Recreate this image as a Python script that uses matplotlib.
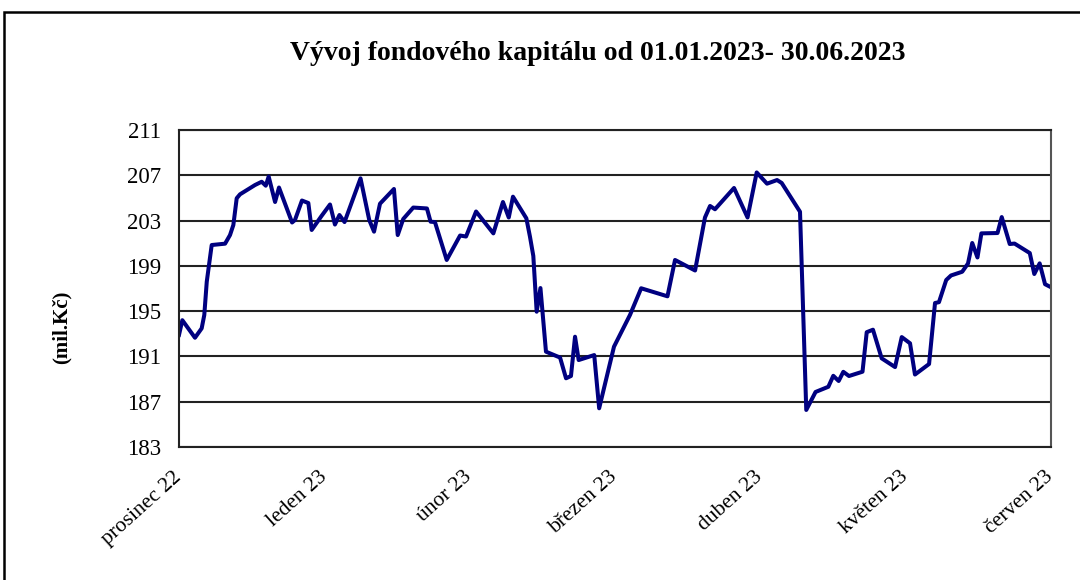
import matplotlib
matplotlib.use('Agg')
import matplotlib.pyplot as plt
from matplotlib.patches import Rectangle

# data (x = position in months from first tick, y = capital in mil. Kc)
month_pos = [0.000, 0.023, 0.110, 0.156, 0.174, 0.191, 0.225, 0.317, 0.351, 0.374,
             0.397, 0.420, 0.523, 0.569, 0.597, 0.617, 0.661, 0.688, 0.778, 0.798,
             0.846, 0.890, 0.913, 0.982, 1.039, 1.073, 1.104, 1.139, 1.249, 1.309,
             1.342, 1.383, 1.479, 1.505, 1.543, 1.612, 1.706, 1.731, 1.761, 1.842,
             1.934, 1.975, 2.044, 2.163, 2.229, 2.269, 2.298, 2.390, 2.415, 2.438,
             2.461, 2.487, 2.525, 2.622, 2.663, 2.697, 2.725, 2.750, 2.857, 2.891,
             2.993, 3.103, 3.180, 3.361, 3.413, 3.551, 3.619, 3.654, 3.688, 3.819,
             3.912, 3.975, 4.046, 4.115, 4.147, 4.273, 4.316, 4.380, 4.468, 4.502,
             4.539, 4.571, 4.610, 4.703, 4.732, 4.775, 4.835, 4.927, 4.973, 5.030,
             5.064, 5.161, 5.202, 5.229, 5.279, 5.312, 5.389, 5.429, 5.458, 5.494,
             5.521, 5.632, 5.661, 5.716, 5.749, 5.854, 5.885, 5.922, 5.959, 5.997]
kapital = [192.9, 194.2, 192.65, 193.48, 194.66, 197.60, 200.84, 200.96, 201.72, 202.61,
           204.97, 205.32, 206.14, 206.43, 206.08, 206.89, 204.64, 205.92, 202.83, 203.05,
           204.77, 204.55, 202.17, 203.43, 204.42, 202.65, 203.49, 202.87, 206.73, 203.05,
           202.02, 204.49, 205.79, 201.72, 203.14, 204.15, 204.07, 202.90, 202.87, 199.52,
           201.68, 201.59, 203.80, 201.87, 204.64, 203.27, 205.11, 203.20, 201.57, 199.87,
           194.95, 197.04, 191.42, 190.90, 189.07, 189.27, 192.74, 190.68, 191.12, 186.42,
           191.86, 194.66, 197.02, 196.31, 199.52, 198.59, 203.27, 204.29, 204.00, 205.88,
           203.27, 207.25, 206.26, 206.58, 206.32, 203.78, 186.27, 187.86, 188.32, 189.29,
           188.83, 189.64, 189.27, 189.65, 193.14, 193.36, 190.83, 190.06, 192.71, 192.16,
           189.40, 190.33, 195.72, 195.79, 197.75, 198.15, 198.48, 199.21, 201.02, 199.74,
           201.87, 201.90, 203.31, 200.93, 200.97, 200.13, 198.28, 199.22, 197.38, 197.13]
month_labels = ['prosinec 22', 'leden 23', 'únor 23', 'březen 23',
                'duben 23', 'květen 23', 'červen 23']
y_ticks = [183, 187, 191, 195, 199, 203, 207, 211]

plt.rcParams['font.family'] = ['Liberation Serif', 'DejaVu Serif']

fig = plt.figure(figsize=(10.8, 5.8), dpi=100)
ax = fig.add_axes([179/1080, 1 - 447/580, (1051 - 179)/1080, (447 - 130)/580])

# horizontal grid
ax.set_yticks(y_ticks)
ax.yaxis.grid(True, color='#222222', linewidth=1.5)
ax.set_axisbelow(True)

ax.plot(month_pos, kapital, color='#000080', linewidth=2.9, solid_joinstyle='round')

ax.set_xlim(0, 6)
ax.set_ylim(183, 211)
ax.set_xticks(range(len(month_labels)))
ax.set_xticklabels(month_labels, rotation=42, ha='right', va='center',
                   rotation_mode='anchor', fontsize=15.5)
ax.tick_params(axis='x', length=0, pad=20)
ax.tick_params(axis='y', length=0, pad=13, labelsize=16.5)
for lbl in ax.get_xticklabels():
    lbl.set_x(lbl.get_position()[0])

for s in ax.spines.values():
    s.set_color('#222222')
    s.set_linewidth(1.5)
ax.spines['right'].set_color('#555555')

fig.text(598/1080, 1 - 53/580, 'Vývoj fondového kapitálu od 01.01.2023- 30.06.2023',
         ha='center', va='center', fontsize=20, fontweight='bold')
fig.text(62/1080, 1 - 327/580, '(mil.Kč)', rotation=90, ha='center', va='center',
         fontsize=15, fontweight='bold')

# outer frame of the chart
fig.patches.append(Rectangle((4/1080, -0.05), 1.1, 1 - 12/580 + 0.05,
                             transform=fig.transFigure, fill=False,
                             edgecolor='black', linewidth=1.8))

fig.savefig('out.png', dpi=100)
